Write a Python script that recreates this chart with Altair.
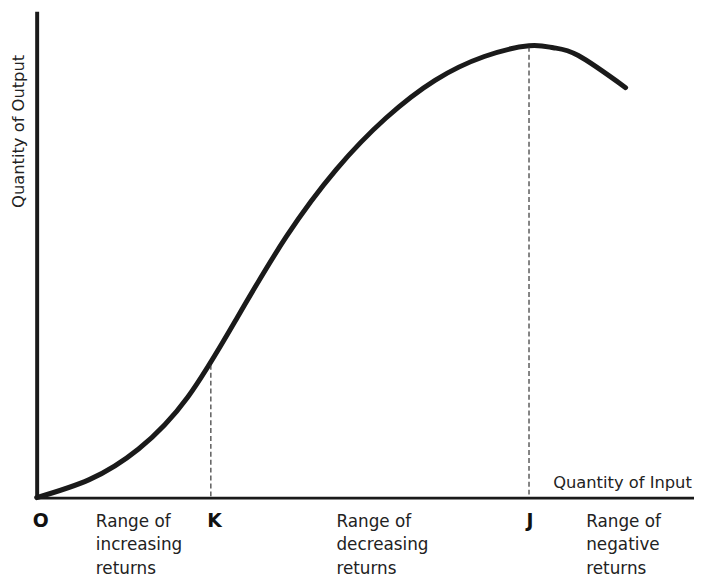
import altair as alt
import pandas as pd

# Production curve (input quantity vs output quantity)
input_qty = [0, 8.0, 15.5, 23.0, 30.5, 38.0, 45.6, 53.1, 60.6, 68.1, 74.9, 78.6, 82.4, 89.6]
output_qty = [0, 3.7, 10.0, 20.7, 37.0, 53.7, 67.5, 78.0, 85.8, 90.7, 92.9, 92.5, 90.9, 84.3]

# Marked points K and J
point_names = ["K", "J"]
point_input = [26.5, 74.9]
point_output = [27.3, 92.7]

# Letters under the axis
letter_names = ["O", "K", "J"]
letter_input = [0.45, 26.9, 74.9]

# Range labels
range_labels = ["Range of\nincreasing\nreturns",
                "Range of\ndecreasing\nreturns",
                "Range of\nnegative\nreturns"]
range_input = [9.0, 45.6, 83.6]

FONT = "DejaVu Sans"
INK = "#1a1a1a"

curve_df = pd.DataFrame({"input": input_qty, "output": output_qty})
pts_df = pd.DataFrame({"name": point_names, "input": point_input,
                       "output": point_output, "base": [0] * len(point_names)})
letters_df = pd.DataFrame({"name": letter_names, "input": letter_input,
                           "base": [0] * len(letter_names)})
ranges_df = pd.DataFrame({"label": range_labels, "input": range_input,
                          "base": [0] * len(range_labels)})

xs = alt.Scale(domain=[0, 100], nice=False, zero=False)
ys = alt.Scale(domain=[0, 100], nice=False, zero=False)

x_axis = alt.Axis(title="Quantity of Input", labels=False, ticks=False, grid=False,
                  domainWidth=3, domainColor=INK, titleX=522, titleY=-10,
                  titleAlign="left", titleBaseline="alphabetic", titleFont=FONT,
                  titleFontSize=16.5, titleFontWeight="normal", titleColor="#222")
y_axis = alt.Axis(title="Quantity of Output", labels=False, ticks=False, grid=False,
                  domainWidth=4, domainColor=INK, titleAngle=270, titleX=-13,
                  titleY=121, titleAlign="center", titleBaseline="alphabetic",
                  titleFont=FONT, titleFontSize=16.5, titleFontWeight="normal",
                  titleColor="#222")

X = alt.X("input:Q", scale=xs, axis=x_axis)
Y_out = alt.Y("output:Q", scale=ys, axis=y_axis)
Y_base = alt.Y("base:Q", scale=ys, axis=y_axis)

curve = alt.Chart(curve_df).mark_line(
    interpolate="natural", strokeWidth=5, color=INK, strokeCap="round"
).encode(x=X, y=Y_out)

drops = alt.Chart(pts_df).mark_rule(
    strokeDash=[5, 3], strokeWidth=1.2, color="#333"
).encode(x=X, y=Y_out, y2="base:Q")

letters = alt.Chart(letters_df).mark_text(
    font=FONT, fontSize=19, fontWeight="bold", color="#111",
    align="center", baseline="alphabetic", dy=30, dx=1
).encode(x=X, y=Y_base, text="name:N")

ranges = alt.Chart(ranges_df).mark_text(
    font=FONT, fontSize=17, color="#222", align="left",
    baseline="alphabetic", lineBreak="\n", lineHeight=23.5, dy=30
).encode(x=X, y=Y_base, text="label:N")

chart = alt.layer(curve, drops, letters, ranges).properties(
    width=665, height=492,
    background="white",
    autosize=alt.AutoSizeParams(type="none"),
    padding={"left": 29, "top": 0, "right": 0, "bottom": 79},
).configure_view(stroke=None)

chart.save("out.html", embed_options={"renderer": "svg", "actions": False})
